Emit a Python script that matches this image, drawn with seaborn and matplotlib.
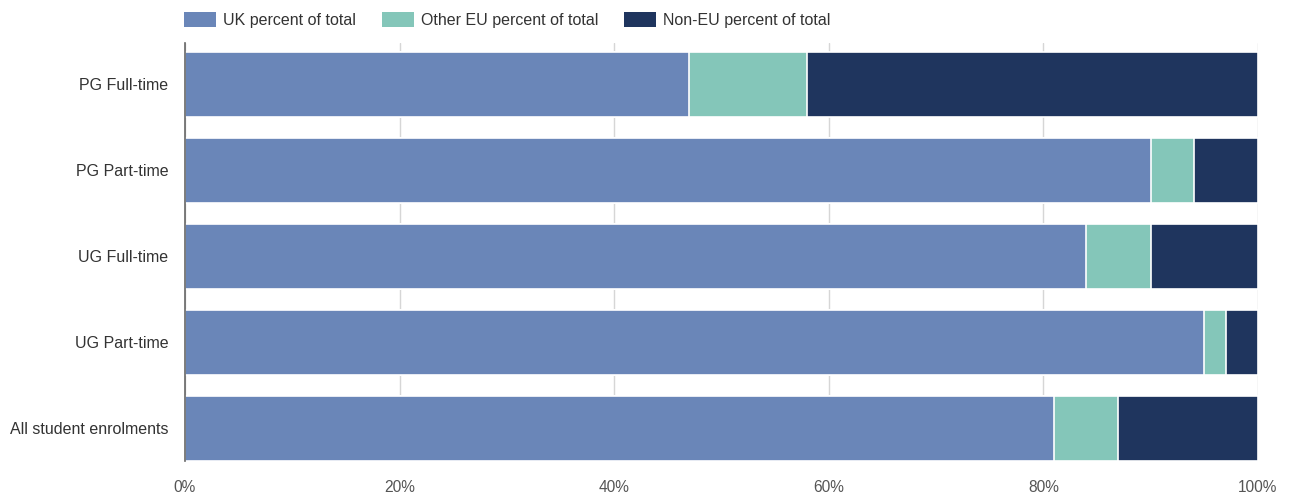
import matplotlib
matplotlib.use('Agg')
import matplotlib.pyplot as plt
import matplotlib.patches as mpatches
import seaborn as sns
import pandas as pd

categories = ['PG Full-time', 'PG Part-time', 'UG Full-time', 'UG Part-time', 'All student enrolments']
uk = [47, 90, 84, 95, 81]
other_eu = [11, 4, 6, 2, 6]
non_eu = [42, 6, 10, 3, 13]
series_names = ['UK percent of total', 'Other EU percent of total', 'Non-EU percent of total']
colors = ['#6a86b8', '#84c6b9', '#1f355e']

df = pd.DataFrame({'category': categories, 'uk': uk, 'eu': other_eu, 'non': non_eu})
df['cum_uk'] = df['uk']
df['cum_eu'] = df['uk'] + df['eu']
df['cum_all'] = df['uk'] + df['eu'] + df['non']

sns.set_style('white')
plt.rcParams['font.family'] = ['Liberation Sans', 'DejaVu Sans']

fig = plt.figure(figsize=(12.89, 4.98), dpi=100)
ax = fig.add_axes([0.1435, 0.0743, 0.8324, 0.8394])

# stacked bars drawn as cumulative layers, largest first
for col, c in zip(['cum_all', 'cum_eu', 'cum_uk'], colors[::-1]):
    sns.barplot(data=df, x=col, y='category', orient='h', color=c, width=0.75,
                saturation=1, edgecolor='white', linewidth=1.2, ax=ax, zorder=3)

ax.set_xlim(0, 100)
ax.set_ylim(4.38, -0.48)
ax.set_xticks(range(0, 101, 20))
ax.set_xticklabels([f'{v}%' for v in range(0, 101, 20)])
ax.set_xlabel('')
ax.set_ylabel('')
ax.grid(axis='x', color='#d6d6d6', linewidth=1, zorder=0)
ax.grid(axis='y', visible=False)
for s in ['top', 'right', 'bottom']:
    ax.spines[s].set_visible(False)
ax.spines['left'].set_color('#666666')
ax.spines['left'].set_linewidth(1.2)
ax.spines['left'].set_zorder(5)
ax.tick_params(axis='x', length=0, pad=14, labelsize=11.2, labelcolor='#555555')
ax.tick_params(axis='y', length=0, pad=12, labelsize=11.5, labelcolor='#333333')

handles = [mpatches.Patch(facecolor=c, edgecolor='none') for c in colors]
fig.legend(handles, series_names, loc='upper left', bbox_to_anchor=(0.1317, 1.004),
           ncol=3, frameon=False, fontsize=11.5, handlelength=2.0, handleheight=1.0,
           columnspacing=1.6, handletextpad=0.45, labelcolor='#333333')

fig.savefig('out.png', dpi=100)
